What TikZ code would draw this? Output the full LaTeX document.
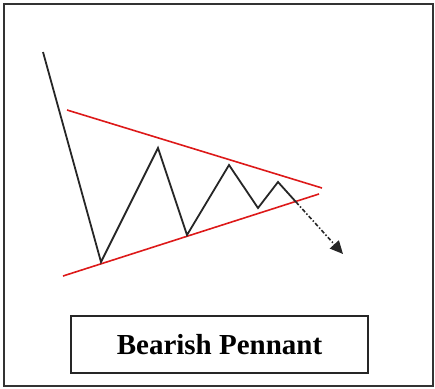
\documentclass[tikz,border=0pt]{standalone}
\usepackage{fontspec}
\setmainfont{Liberation Serif}
\usetikzlibrary{arrows.meta}
\begin{document}
\begin{tikzpicture}[x=1pt,y=-1pt,
  frame/.style={draw=black!80,line width=2pt},
  price/.style={draw=black!85,line width=1.8pt,line join=miter},
  trend/.style={draw=red!85!black!90!white,line width=1.6pt},
  breakout/.style={draw=black!85,line width=1.6pt,dash pattern=on 4pt off 2pt on 1.5pt off 2pt,-{Triangle[length=13pt,width=12pt]}},
  label/.style={draw=black!85,line width=1.6pt,minimum width=297pt,minimum height=57pt,inner sep=0pt,font=\bfseries\fontsize{29}{31}\selectfont}]
\useasboundingbox (0,0) rectangle (435,388);
\draw[frame] (4,4) rectangle (433,386);
% trend lines
\coordinate (u1) at (67,110);
\coordinate (u2) at (322,188);
\coordinate (l1) at (63,276);
\coordinate (l2) at (319,194);
\draw[trend] (u1) -- (u2);
\draw[trend] (l1) -- (l2);
% price path
\coordinate (p0) at (43,52);
\coordinate (p1) at (101,262);
\coordinate (p2) at (158,148);
\coordinate (p3) at (187,235);
\coordinate (p4) at (229,165);
\coordinate (p5) at (258,208);
\coordinate (p6) at (278,182);
\coordinate (p7) at (296,202);
\coordinate (p8) at (343,254);
\draw[price] (p0) -- (p1) -- (p2) -- (p3) -- (p4) -- (p5) -- (p6) -- (p7);
\draw[breakout] (p7) -- (p8);
\node[label] (title) at (219.5,344.5) {Bearish Pennant};
\end{tikzpicture}
\end{document}
